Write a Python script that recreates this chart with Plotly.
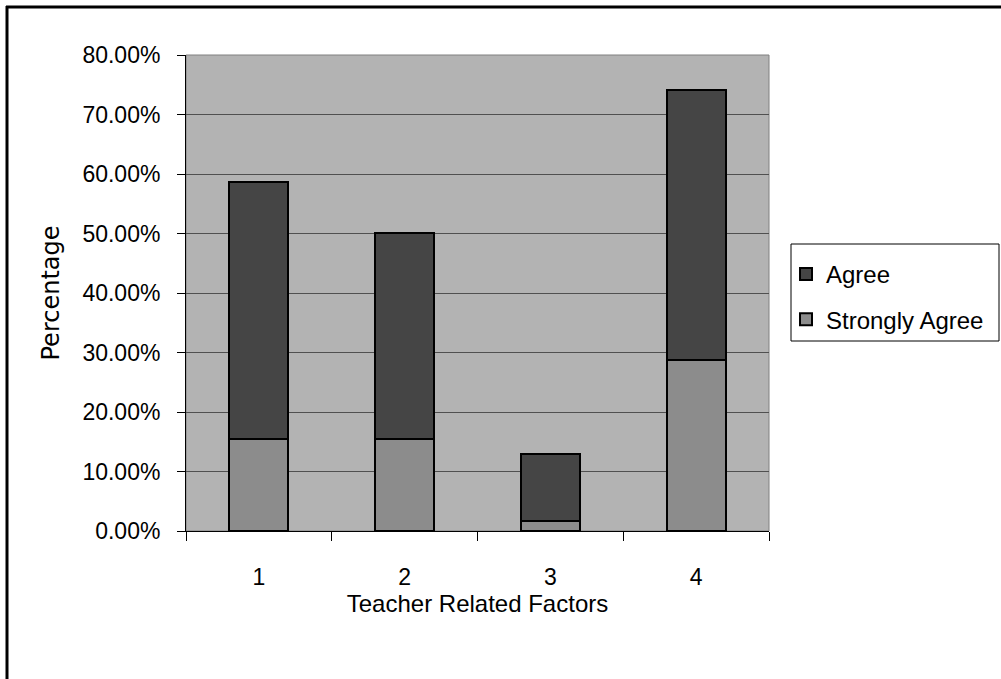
import plotly.graph_objects as go

categories = ["1", "2", "3", "4"]
strongly_agree = [15.5, 15.5, 1.6, 28.7]
agree = [43.2, 34.6, 11.3, 45.5]
y_ticks = [0, 10, 20, 30, 40, 50, 60, 70, 80]
y_tick_labels = ["0.00%", "10.00%", "20.00%", "30.00%", "40.00%", "50.00%", "60.00%", "70.00%", "80.00%"]

FONT = "Liberation Sans"

fig = go.Figure()
fig.add_trace(go.Bar(
    x=categories, y=strongly_agree, name="Strongly Agree", legendgroup="sa", legendrank=2,
    marker=dict(color="#8c8c8c", line=dict(color="black", width=2)),
))
fig.add_trace(go.Bar(
    x=categories, y=agree, name="Agree", legendgroup="a", legendrank=1,
    marker=dict(color="#454545", line=dict(color="black", width=2)),
))

L, R, T, B = 186, 232, 55, 148
W, H = 1001, 679
pw, ph = W - L - R, H - T - B

def px_x(x):
    return (x - L) / pw

def px_y(y):
    return (H - B - y) / ph

fig.update_layout(
    width=W, height=H,
    margin=dict(l=L, r=R, t=T, b=B, pad=0),
    barmode="stack", bargap=0.595,
    plot_bgcolor="#b3b3b3", paper_bgcolor="white",
    font=dict(family=FONT, size=23, color="black"),
    showlegend=True,
    legend=dict(
        x=px_x(786), y=px_y(297), xanchor="left", yanchor="middle",
        bgcolor="rgba(0,0,0,0)", borderwidth=0,
        traceorder="grouped", font=dict(family=FONT, size=24),
        itemwidth=30, tracegroupgap=11,
    ),
    xaxis=dict(
        type="category", showgrid=False, showline=True, linecolor="black", linewidth=1,
        ticks="outside", tickson="boundaries", ticklen=9, tickcolor="black",
        ticklabelstandoff=25,
        title=dict(text="Teacher Related Factors", standoff=2, font=dict(family=FONT, size=24)),
        zeroline=False, automargin=False,
    ),
    yaxis=dict(
        range=[0, 80], tickvals=y_ticks, ticktext=y_tick_labels,
        showgrid=True, gridcolor="#505050", gridwidth=1,
        showline=True, linecolor="black", linewidth=1,
        ticks="outside", ticklen=8, tickcolor="black", ticklabelstandoff=12,
        title=dict(text="Percentage", standoff=15, font=dict(family="DejaVu Sans", size=24)),
        zeroline=False, automargin=False,
    ),
    shapes=[
        dict(type="rect", xref="paper", yref="paper", x0=0, x1=1, y0=0, y1=1,
             line=dict(color="#808080", width=1), layer="below"),
        dict(type="line", xref="paper", yref="paper", x0=px_x(6), x1=px_x(1010), y0=px_y(7), y1=px_y(7),
             line=dict(color="black", width=3)),
        dict(type="line", xref="paper", yref="paper", x0=px_x(7), x1=px_x(7), y0=px_y(6), y1=px_y(690),
             line=dict(color="black", width=3)),
        dict(type="rect", xref="paper", yref="paper", x0=px_x(791), x1=px_x(999), y0=px_y(341), y1=px_y(244),
             line=dict(color="black", width=1), fillcolor="white", layer="above"),
    ],
)

fig.write_html(
    "out.html",
    config={"displayModeBar": False},
    post_script="document.body.style.margin='0';document.body.style.overflow='hidden';",
)
